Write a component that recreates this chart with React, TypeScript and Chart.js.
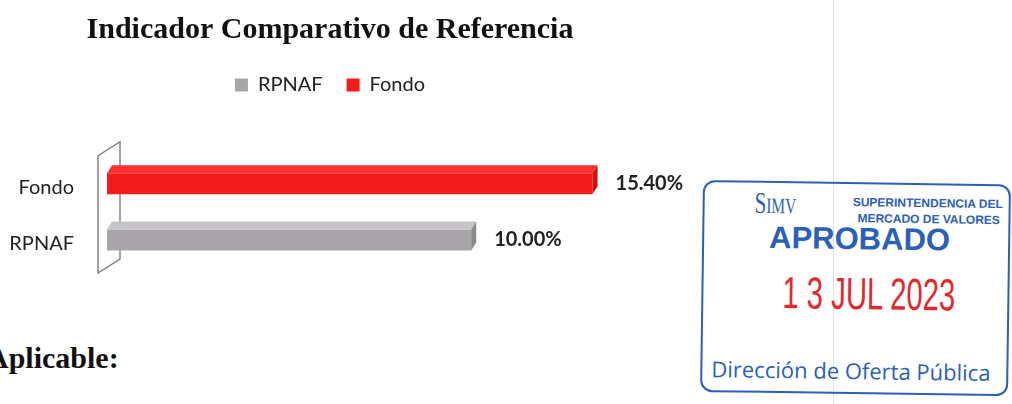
import React, { useEffect, useRef } from "react";
import { Chart, registerables } from "chart.js";

Chart.register(...registerables);

// ---- data ----
const chartTitle = "Indicador Comparativo de Referencia";
const categories = ["Fondo", "RPNAF"];
const seriesNames = ["RPNAF", "Fondo"];
const rpnafValues: (number | null)[] = [null, 10.0];
const fondoValues: (number | null)[] = [15.4, null];
const valueAxisMin = -6.2;
const valueAxisMax = 18.4;

// ---- styles ----
const FRONT = ["#a7a5a8", "#f21c1c"];
const TOP = ["#c6c4c7", "#ff3030"];
const SIDE = ["#8c8a8d", "#cf1010"];
const DX = 5;
const DY = 8;
const BLUE = "#2b5fb8";

const wallPlugin = {
  id: "wall3d",
  beforeDatasetsDraw(chart: any) {
    const { ctx, chartArea } = chart;
    const L = chartArea.left;
    const T = chartArea.top;
    const B = chartArea.bottom;
    ctx.save();
    ctx.strokeStyle = "#7c7c7c";
    ctx.lineWidth = 1.4;
    ctx.beginPath();
    ctx.moveTo(L - 9, T);
    ctx.lineTo(L + 13, T - 14);
    ctx.lineTo(L + 13, B - 9);
    ctx.lineTo(L - 9, B + 5);
    ctx.closePath();
    ctx.stroke();
    ctx.restore();
  },
};

const bar3dPlugin = {
  id: "bar3d",
  afterDatasetsDraw(chart: any) {
    const ctx = chart.ctx;
    chart.data.datasets.forEach((ds: any, di: number) => {
      const meta = chart.getDatasetMeta(di);
      meta.data.forEach((el: any, i: number) => {
        const v = ds.data[i];
        if (v === null || v === undefined) return;
        const { x, y, base, height } = el.getProps(["x", "y", "base", "height"], true);
        const top = y - height / 2;
        const bottom = y + height / 2;
        ctx.save();
        ctx.fillStyle = TOP[di];
        ctx.beginPath();
        ctx.moveTo(base, top);
        ctx.lineTo(base + DX, top - DY);
        ctx.lineTo(x + DX, top - DY);
        ctx.lineTo(x, top);
        ctx.closePath();
        ctx.fill();
        ctx.fillStyle = SIDE[di];
        ctx.beginPath();
        ctx.moveTo(x, top);
        ctx.lineTo(x + DX, top - DY);
        ctx.lineTo(x + DX, bottom - DY);
        ctx.lineTo(x, bottom);
        ctx.closePath();
        ctx.fill();
        ctx.fillStyle = "#222";
        ctx.font = "bold 20px Lato";
        ctx.textAlign = "left";
        ctx.textBaseline = "middle";
        ctx.fillText(v.toFixed(2) + "%", x + 23, y);
        ctx.restore();
      });
    });
  },
};

function ChartBox() {
  const ref = useRef<HTMLCanvasElement | null>(null);
  useEffect(() => {
    if (!ref.current) return;
    const chart = new Chart(ref.current, {
      type: "bar",
      data: {
        labels: categories,
        datasets: [
          {
            label: seriesNames[0],
            data: rpnafValues,
            backgroundColor: FRONT[0],
            base: valueAxisMin,
            skipNull: true,
            categoryPercentage: 1,
            barPercentage: 0.372,
          } as any,
          {
            label: seriesNames[1],
            data: fondoValues,
            backgroundColor: FRONT[1],
            base: valueAxisMin,
            skipNull: true,
            categoryPercentage: 1,
            barPercentage: 0.372,
          } as any,
        ],
      },
      options: {
        indexAxis: "y",
        responsive: false,
        animation: false,
        layout: { padding: { left: 0, right: 40, top: 0, bottom: 0 } },
        scales: {
          x: {
            type: "linear",
            position: "top",
            min: valueAxisMin,
            max: valueAxisMax,
            grid: { display: false, drawTicks: false },
            border: { display: false },
            ticks: { display: false },
            afterFit: (s: any) => {
              s.height = 50.75;
            },
          },
          y: {
            grid: { display: false, drawTicks: false },
            border: { display: false },
            ticks: {
              color: "#222",
              font: { family: "Lato", size: 20 },
              padding: 33,
              labelOffset: 4,
            },
            afterFit: (s: any) => {
              s.width = 107;
            },
          },
        },
        plugins: {
          title: {
            display: true,
            text: chartTitle,
            color: "#111",
            font: { family: "Liberation Serif", size: 30, weight: "bold" },
            padding: { top: 12, bottom: 3 },
          },
          legend: {
            display: true,
            position: "top",
            labels: {
              boxWidth: 13,
              boxHeight: 13,
              padding: 24,
              color: "#222",
              font: { family: "Lato", size: 20 },
            },
          },
          tooltip: { enabled: false },
        },
      },
      plugins: [wallPlugin, bar3dPlugin],
    });
    return () => chart.destroy();
  }, []);
  return (
    <canvas
      ref={ref}
      width={700}
      height={313}
      style={{ position: "absolute", left: 0, top: 0, width: 700, height: 313 }}
    />
  );
}

export default function App() {
  return (
    <div
      style={{
        position: "fixed",
        left: 0,
        top: 0,
        width: 1012,
        height: 404,
        background: "#fff",
        overflow: "hidden",
      }}
    >
      <div
        style={{
          position: "absolute",
          left: 833,
          top: 0,
          width: 1,
          height: 404,
          background: "#e4e4e4",
        }}
      />
      <ChartBox />
      <div
        style={{
          position: "absolute",
          left: -13,
          top: 343,
          fontFamily: "Liberation Serif",
          fontWeight: "bold",
          fontSize: 30,
          lineHeight: "30px",
          color: "#111",
          whiteSpace: "nowrap",
        }}
      >
        Aplicable:
      </div>
      <div
        style={{
          position: "absolute",
          left: 703,
          top: 180,
          width: 304,
          height: 208,
          border: `2.5px solid ${BLUE}`,
          borderRadius: 12,
          transform: "rotate(0.8deg)",
          transformOrigin: "0 0",
          whiteSpace: "nowrap",
        }}
      >
        <div
          style={{
            position: "absolute",
            left: 50,
            top: 5,
            fontFamily: "Liberation Serif",
            lineHeight: "30px",
            color: BLUE,
            transform: "scaleX(0.7)",
            transformOrigin: "0 0",
          }}
        >
          <span style={{ fontSize: 30 }}>S</span>
          <span style={{ fontSize: 22 }}>IMV</span>
        </div>
        <div
          style={{
            position: "absolute",
            left: 148,
            top: 11,
            fontFamily: "Liberation Sans",
            fontWeight: "bold",
            fontSize: 12,
            lineHeight: "14px",
            color: BLUE,
          }}
        >
          SUPERINTENDENCIA DEL
        </div>
        <div
          style={{
            position: "absolute",
            left: 153,
            top: 27,
            fontFamily: "Liberation Sans",
            fontWeight: "bold",
            fontSize: 12,
            lineHeight: "14px",
            color: BLUE,
          }}
        >
          MERCADO DE VALORES
        </div>
        <div
          style={{
            position: "absolute",
            left: 65,
            top: 39,
            fontFamily: "Liberation Sans",
            fontWeight: "bold",
            fontSize: 31,
            lineHeight: "31px",
            color: BLUE,
          }}
        >
          APROBADO
        </div>
        <div
          style={{
            position: "absolute",
            left: 79,
            top: 87,
            fontFamily: "Liberation Sans",
            fontSize: 45,
            lineHeight: "45px",
            color: "#e2282d",
            transform: "scaleX(0.65)",
            transformOrigin: "0 0",
          }}
        >
          1 3 JUL 2023
        </div>
        <div
          style={{
            position: "absolute",
            left: 9,
            top: 173,
            fontFamily: "Open Sans",
            fontSize: 22,
            lineHeight: "26px",
            color: BLUE,
          }}
        >
          Dirección de Oferta Pública
        </div>
      </div>
    </div>
  );
}
